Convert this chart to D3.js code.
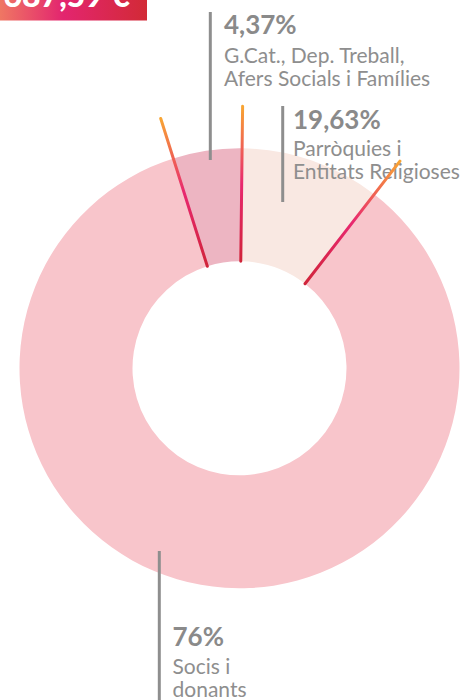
<!DOCTYPE html>
<html>
<head>
<meta charset="utf-8">
<script src="https://cdn.jsdelivr.net/npm/d3@7"></script>
<style>
  html, body { margin: 0; padding: 0; background: #fff; }
  svg { display: block; }
</style>
</head>
<body>
<div id="chart"></div>
<script>
// ---- data ----
const categories = ["G.Cat., Dep. Treball, Afers Socials i Famílies", "Parròquies i Entitats Religioses", "Socis i donants"];
const percentLabels = ["4,37%", "19,63%", "76%"];
const labelLines = [["G.Cat., Dep. Treball,", "Afers Socials i Famílies"], ["Parròquies i", "Entitats Religioses"], ["Socis i", "donants"]];
// share of the ring each slice occupies as drawn in the picture
const arcShare = [5.05, 10.3, 84.65];
const sliceColors = ["#edb5c2", "#f9e8e2", "#f8c5cb"];
const totalLabel = "687,59 €";

// ---- layout ----
const W = 465, H = 700;
const cx = 239.5, cy = 368.3, rOuter = 220, rInner = 107, rSep = 262;
const startDeg = -17.5;

const svg = d3.select("#chart").append("svg").attr("width", W).attr("height", H);
const defs = svg.append("defs");

// header box gradient
const hg = defs.append("linearGradient").attr("id", "hdr").attr("x1", "0%").attr("x2", "100%");
hg.append("stop").attr("offset", "0%").attr("stop-color", "#ef7763");
hg.append("stop").attr("offset", "43%").attr("stop-color", "#e3256f");
hg.append("stop").attr("offset", "100%").attr("stop-color", "#d22a36");
svg.append("rect").attr("x", 0).attr("y", 0).attr("width", 147).attr("height", 20.5).attr("fill", "url(#hdr)");
svg.append("text").attr("x", 130).attr("y", 6.5).attr("text-anchor", "end")
  .attr("font-family", "Lato, sans-serif").attr("font-weight", 900).attr("font-size", 32)
  .attr("fill", "#fff").text(totalLabel);

const g = svg.append("g").attr("transform", `translate(${cx},${cy})`);
const rad = d => d * Math.PI / 180;
const pie = d3.pie().sort(null).value(d => d).startAngle(rad(startDeg)).endAngle(rad(startDeg + 360));
const arcs = pie(arcShare);
const arc = d3.arc().innerRadius(rInner).outerRadius(rOuter);

g.selectAll("path.slice").data(arcs).join("path")
  .attr("class", "slice")
  .attr("d", arc)
  .attr("fill", (d, i) => sliceColors[i]);

// labels
const labelLayout = [
  { lineX: 210.3, y1: 12, y2: 160, tx: 224, pctY: 34, firstY: 62.5, gap: 23, pctSize: 26 },
  { lineX: 282.7, y1: 106, y2: 202, tx: 293, pctY: 128.5, firstY: 156, gap: 22.5, pctSize: 26 },
  { lineX: 159.3, y1: 551, y2: 700, tx: 172.5, pctY: 645.5, firstY: 674.3, gap: 22.5, pctSize: 26 }
];
const grey = "#8e8e8e";
labelLayout.forEach((L, i) => {
  svg.append("line").attr("x1", L.lineX).attr("x2", L.lineX).attr("y1", L.y1).attr("y2", L.y2)
    .attr("stroke", grey).attr("stroke-width", 3);
  svg.append("text").attr("x", L.tx).attr("y", L.pctY)
    .attr("font-family", "Lato, sans-serif").attr("font-weight", 700).attr("font-size", L.pctSize)
    .attr("fill", "#8a8a8a").text(percentLabels[i]);
  labelLines[i].forEach((t, j) => {
    svg.append("text").attr("x", L.tx).attr("y", L.firstY + j * L.gap)
      .attr("font-family", "Lato, sans-serif").attr("font-weight", 400).attr("font-size", 21)
      .attr("fill", grey).text(t);
  });
});

// separators (gradient lines on slice boundaries)
const bounds = arcs.map(a => a.startAngle);
bounds.forEach((a, i) => {
  const x1 = cx + rInner * Math.sin(a), y1 = cy - rInner * Math.cos(a);
  const x2 = cx + rSep * Math.sin(a), y2 = cy - rSep * Math.cos(a);
  const lg = defs.append("linearGradient").attr("id", "sep" + i)
    .attr("gradientUnits", "userSpaceOnUse")
    .attr("x1", x1).attr("y1", y1).attr("x2", x2).attr("y2", y2);
  lg.append("stop").attr("offset", "0%").attr("stop-color", "#d0243a");
  lg.append("stop").attr("offset", "50%").attr("stop-color", "#e8286f");
  lg.append("stop").attr("offset", "100%").attr("stop-color", "#f8a533");
  svg.append("line").attr("x1", x1).attr("y1", y1).attr("x2", x2).attr("y2", y2)
    .attr("stroke", `url(#sep${i})`).attr("stroke-width", 3).attr("stroke-linecap", "round");
});
</script>
</body>
</html>
